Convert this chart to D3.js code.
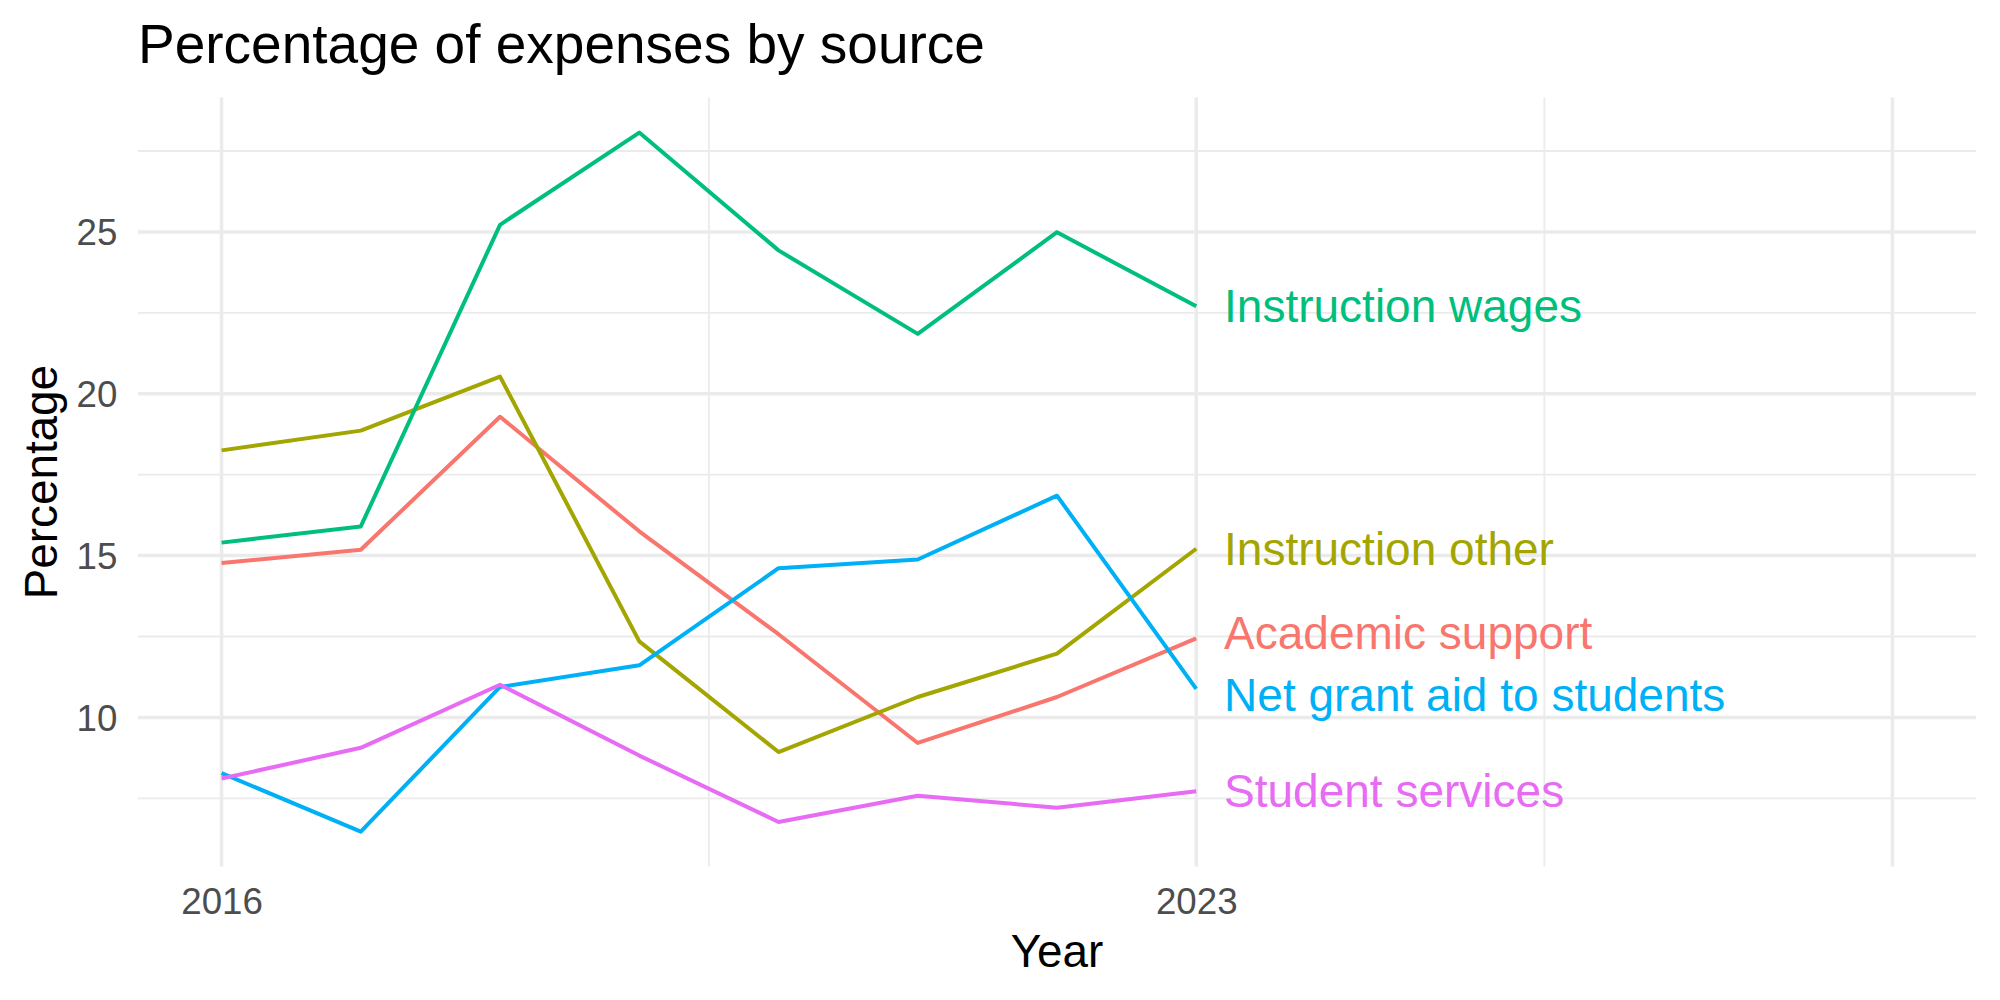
<!DOCTYPE html>
<html>
<head>
<meta charset="utf-8">
<script src="https://cdn.jsdelivr.net/npm/d3@7"></script>
<style>
  body { margin: 0; background: #fff; }
  text { font-family: "Liberation Sans", Arial, Helvetica, sans-serif; }
</style>
</head>
<body>
<script>

// data
var years = [2016, 2017, 2018, 2019, 2020, 2021, 2022, 2023];

var academicSupport  = [14.77, 15.18, 19.29, 15.75, 12.57, 9.21, 10.63, 12.44];
var instructionOther = [18.25, 18.86, 20.53, 12.35, 8.93, 10.63, 11.97, 15.21];
var instructionWages = [15.40, 15.90, 25.22, 28.07, 24.43, 21.85, 24.99, 22.70];
var netGrantAid      = [8.28, 6.47, 10.94, 11.61, 14.61, 14.88, 16.85, 10.88];
var studentServices  = [8.11, 9.06, 11.01, 8.82, 6.77, 7.58, 7.21, 7.72];

var seriesNames = ["Academic support", "Instruction other", "Instruction wages",
                   "Net grant aid to students", "Student services"];
var seriesColors = ["#F8766D", "#A3A500", "#00BF7D", "#00B0F6", "#E76BF3"];

var xLimits = [2016, 2028];
var xMajorBreaks = [2016, 2023, 2028];
var xMajorLabels = ["2016", "2023", ""];
var xMinorBreaks = [2019.5, 2025.5];

var yMajorBreaks = [10, 15, 20, 25];
var yMinorBreaks = [7.5, 12.5, 17.5, 22.5, 27.5];

function drawChart() {
    var width = 2000;
    var height = 1000;
    var panel = {left: 138, right: 1976, top: 97.6, bottom: 866.6};

    var svg = d3.select("body")
        .append("svg")
        .attr("width", width)
        .attr("height", height);

    var allSeries = [academicSupport, instructionOther, instructionWages, netGrantAid, studentServices];
    var series = seriesNames.map(function (name, i) {
        return {
            name: name,
            color: seriesColors[i],
            values: years.map(function (y, j) { return {year: y, value: allSeries[i][j]}; })
        };
    });

    // ggplot style 5% expansion
    var xPad = (xLimits[1] - xLimits[0]) * 0.05;
    var x = d3.scaleLinear()
        .domain([xLimits[0] - xPad, xLimits[1] + xPad])
        .range([panel.left, panel.right]);

    var yExt = d3.extent(d3.merge(allSeries));
    var yPad = (yExt[1] - yExt[0]) * 0.05;
    var y = d3.scaleLinear()
        .domain([yExt[0] - yPad, yExt[1] + yPad])
        .range([panel.bottom, panel.top]);

    var grid = svg.append("g").attr("class", "grid");

    grid.selectAll("line.yminor")
        .data(yMinorBreaks)
        .enter().append("line")
        .attr("class", "yminor")
        .attr("x1", panel.left).attr("x2", panel.right)
        .attr("y1", function (d) { return y(d); })
        .attr("y2", function (d) { return y(d); })
        .style("stroke", "#EBEBEB")
        .style("stroke-width", "1.8px");

    grid.selectAll("line.xminor")
        .data(xMinorBreaks)
        .enter().append("line")
        .attr("class", "xminor")
        .attr("y1", panel.top).attr("y2", panel.bottom)
        .attr("x1", function (d) { return x(d); })
        .attr("x2", function (d) { return x(d); })
        .style("stroke", "#EBEBEB")
        .style("stroke-width", "1.8px");

    grid.selectAll("line.ymajor")
        .data(yMajorBreaks)
        .enter().append("line")
        .attr("class", "ymajor")
        .attr("x1", panel.left).attr("x2", panel.right)
        .attr("y1", function (d) { return y(d); })
        .attr("y2", function (d) { return y(d); })
        .style("stroke", "#EBEBEB")
        .style("stroke-width", "3.5px");

    grid.selectAll("line.xmajor")
        .data(xMajorBreaks)
        .enter().append("line")
        .attr("class", "xmajor")
        .attr("y1", panel.top).attr("y2", panel.bottom)
        .attr("x1", function (d) { return x(d); })
        .attr("x2", function (d) { return x(d); })
        .style("stroke", "#EBEBEB")
        .style("stroke-width", "3.5px");

    // axes (ticks hidden, theme_minimal)
    var yAxis = svg.append("g")
        .attr("transform", "translate(" + (panel.left - 20.7) + ",0)")
        .call(d3.axisLeft(y).tickValues(yMajorBreaks).tickSize(0).tickPadding(0));
    yAxis.select(".domain").remove();
    yAxis.selectAll("text")
        .style("font-size", "36.7px")
        .style("fill", "#4D4D4D")
        .attr("dy", "0.35em");

    var xAxis = svg.append("g")
        .attr("transform", "translate(0," + (panel.bottom + 20.7) + ")")
        .call(d3.axisBottom(x).tickValues(xMajorBreaks)
            .tickFormat(function (d, i) { return xMajorLabels[i]; })
            .tickSize(0).tickPadding(0));
    xAxis.select(".domain").remove();
    xAxis.selectAll("text")
        .style("font-size", "36.7px")
        .style("fill", "#4D4D4D")
        .attr("dy", "0.73em");

    // lines
    var line = d3.line()
        .x(function (d) { return x(d.year); })
        .y(function (d) { return y(d.value); });

    svg.append("g").selectAll("path")
        .data(series)
        .enter().append("path")
        .attr("d", function (d) { return line(d.values); })
        .style("fill", "none")
        .style("stroke", function (d) { return d.color; })
        .style("stroke-width", "4px")
        .style("stroke-linejoin", "round");

    // end labels, pushed apart a little where they'd overlap
    var minGap = 62;
    var labels = series.map(function (s) {
        var last = s.values[s.values.length - 1];
        return {name: s.name, color: s.color, year: last.year, py: y(last.value)};
    }).sort(function (a, b) { return a.py - b.py; });
    for (var k = 0; k < 20; k++) {
        for (var i = 1; i < labels.length; i++) {
            var gap = labels[i].py - labels[i - 1].py;
            if (gap < minGap) {
                var shift = (minGap - gap) / 2;
                labels[i - 1].py -= shift;
                labels[i].py += shift;
            }
        }
    }

    svg.append("g").selectAll("text")
        .data(labels)
        .enter().append("text")
        .attr("x", function (d) { return x(d.year + 0.2); })
        .attr("y", function (d) { return d.py; })
        .attr("dy", "0.35em")
        .style("font-size", "46px")
        .style("fill", function (d) { return d.color; })
        .text(function (d) { return d.name; });

    // titles
    svg.append("text")
        .attr("x", panel.left)
        .attr("y", 62.7)
        .style("font-size", "55px")
        .style("fill", "#000")
        .text("Percentage of expenses by source");

    svg.append("text")
        .attr("x", (panel.left + panel.right) / 2)
        .attr("y", 966.7)
        .style("text-anchor", "middle")
        .style("font-size", "45.8px")
        .style("fill", "#000")
        .text("Year");

    svg.append("text")
        .attr("transform", "translate(56.7," + ((panel.top + panel.bottom) / 2) + ") rotate(-90)")
        .style("text-anchor", "middle")
        .style("font-size", "45.8px")
        .style("fill", "#000")
        .text("Percentage");
}

drawChart();
</script>
</body>
</html>
